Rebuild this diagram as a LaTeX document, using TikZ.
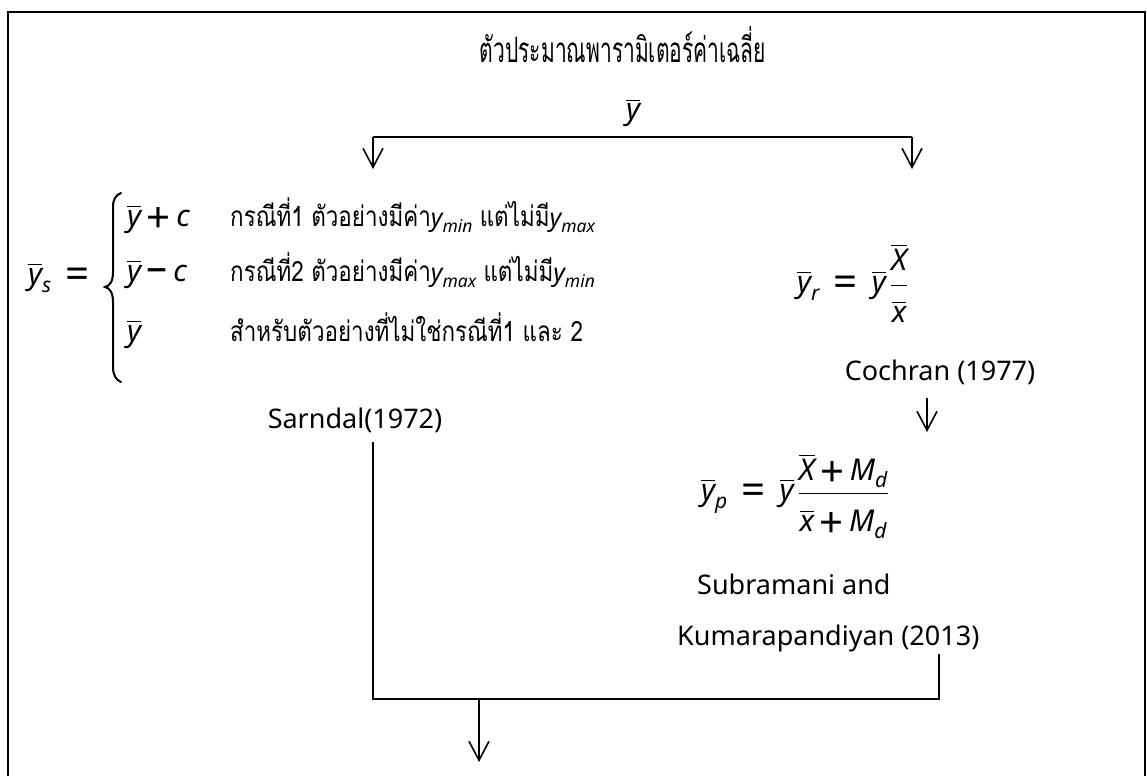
\documentclass[tikz,border=0pt]{standalone}
\usepackage{amsmath}
\usepackage{graphicx}
\usepackage{fontspec}
\setmainfont{Noto Sans}
\newfontfamily\thai[Script=Thai]{Loma}
\usetikzlibrary{arrows.meta}
\newcommand{\vb}[1]{\overline{\text{\itshape #1}}}
\newcommand{\vi}[1]{\text{\itshape #1}}
\newcommand{\bigop}[1]{\mathrel{\vcenter{\hbox{\fontsize{42}{42}\selectfont #1}}}}
\newcommand{\bigbin}[1]{\mathbin{\vcenter{\hbox{\fontsize{42}{42}\selectfont #1}}}}
\newcommand{\thx}[1]{\scalebox{0.8}[1]{\thai\fontsize{28}{32}\selectfont #1}}
\newcommand{\ymm}[1]{{\fontsize{25}{28}\selectfont$\vi{y}_{\vi{#1}}$}}
\tikzset{
  frame/.style={line width=2pt},
  conn/.style={line width=1.1pt},
  brc/.style={line width=2pt,line cap=round},
  arr/.style={line width=1.6pt,-{Straight Barb[length=19pt,width=20pt,line width=1.6pt]}},
  lbl/.style={inner sep=0pt,font=\fontsize{27}{31}\selectfont},
  mth/.style={inner sep=0pt,font=\fontsize{30}{34}\selectfont},
  thl/.style={inner sep=0pt,font=\fontsize{26}{30}\selectfont},
}
\begin{document}
\begin{tikzpicture}[x=1pt,y=-1pt]
\useasboundingbox (0,0) rectangle (1147,776);
\draw[frame] (8,776) -- (8,12) -- (1145,12) -- (1145,776);

\node[inner sep=0pt] (title) at (623,45) {\scalebox{0.6}[1]{\thai\fontsize{35}{40}\selectfont ตัวประมาณพารามิเตอร์ค่าเฉลี่ย}};
\node[mth] (ybar) at (633,113) {$\vb{y}$};

\coordinate (bl) at (373,137);
\coordinate (br) at (912,137);
\coordinate (tl) at (373,169);
\coordinate (tr) at (912,169);
\draw[conn] (bl) -- (br);
\draw[arr] (bl) -- (tl);
\draw[arr] (br) -- (tr);

% left formula
\node[mth,anchor=base west] (ys) at (28,284) {$\vb{y}_{\vi{s}}\;\bigop{=}$};
\draw[brc] (121,193) .. controls (116,195) and (113,199) .. (113,207) -- (113,272)
  .. controls (113,281) and (110,286) .. (105,287)
  .. controls (110,288) and (113,293) .. (113,302) -- (113,367)
  .. controls (113,375) and (116,380) .. (121,382);
\node[mth,anchor=base west] (r1) at (127,226) {$\vb{y}\bigbin{+}\vi{c}$};
\node[thl,anchor=base west] (t1) at (230,226) {\thx{กรณีที่1 ตัวอย่างมีค่า}\ymm{min} \thx{แต่ไม่มี}\ymm{max}};
\node[mth,anchor=base west] (r2) at (127,281) {$\vb{y}\bigbin{\textendash}\vi{c}$};
\node[thl,anchor=base west] (t2) at (230,281) {\thx{กรณีที่2 ตัวอย่างมีค่า}\ymm{max} \thx{แต่ไม่มี}\ymm{min}};
\node[mth,anchor=base west] (r3) at (127,341) {$\vb{y}$};
\node[thl,anchor=base west] (t3) at (230,341) {\thx{สำหรับตัวอย่างที่ไม่ใช่กรณีที่1 และ 2}};
\node[lbl] (sarn) at (355,420) {Sarndal(1972)};

% right formulas
\node[mth,anchor=base west] (yr) at (797,292) {$\vb{y}_{\vi{r}}\;\bigop{=}\;\vb{y}\,\dfrac{\vb{X}\vrule depth 12pt width 0pt}{\vrule height 33pt width 0pt\vb{x}}$};
\node[lbl] (coch) at (940,372) {Cochran (1977)};
\coordinate (ca) at (927,398);
\coordinate (cb) at (927,432);
\draw[arr] (ca) -- (cb);
\node[mth,anchor=base west] (yp) at (701,500) {$\vb{y}_{\vi{p}}\;\bigop{=}\;\vb{y}\,\dfrac{\vb{X}\bigbin{+}\vi{M}_{\vi{d}}\vrule depth 10pt width 0pt}{\vrule height 34pt width 0pt\vb{x}\bigbin{+}\vi{M}_{\vi{d}}}$};
\node[lbl,anchor=west] (sub1) at (697,584) {Subramani and};
\node[lbl,anchor=west] (sub2) at (677,638) {Kumarapandiyan (2013)};

% bottom connectors
\coordinate (sl) at (373,442);
\coordinate (jl) at (373,699);
\coordinate (jr) at (939,699);
\coordinate (kr) at (939,654);
\coordinate (ma) at (479,699);
\coordinate (mb) at (479,762);
\draw[conn] (sl) -- (jl) -- (jr) -- (kr);
\draw[arr] (ma) -- (mb);
\end{tikzpicture}
\end{document}
